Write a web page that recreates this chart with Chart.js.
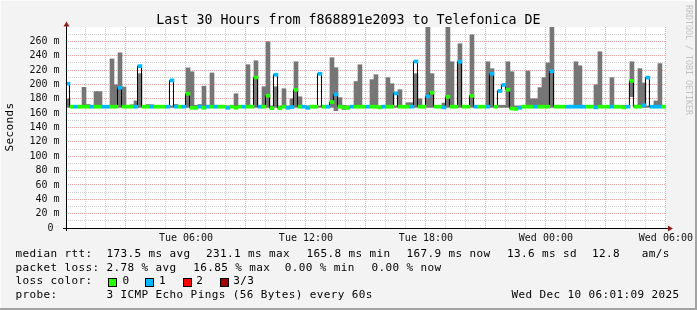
<!DOCTYPE html>
<html><head><meta charset="utf-8">
<script src="https://cdn.jsdelivr.net/npm/chart.js@4"></script>
<style>
html,body{margin:0;padding:0;background:#f3f3f3;}
#wrap{position:relative;width:697px;height:310px;overflow:hidden;background:#f3f3f3;font-family:"DejaVu Sans Mono",monospace;color:#000;}
#wrap canvas{position:absolute;left:0;top:0;}
.t{position:absolute;white-space:pre;font-size:11px;line-height:12.8px;letter-spacing:0.38px;}
.box{position:absolute;width:9px;height:9px;box-sizing:border-box;border:1px solid #000;}
#title{position:absolute;left:0;top:12px;width:697px;text-align:center;font-size:13.3px;line-height:15.5px;white-space:pre;}
#wm{position:absolute;left:688.3px;top:60px;transform:translate(-50%,-50%) rotate(90deg);font-size:8.3px;line-height:9.7px;color:#c2c2c2;white-space:pre;}
#ylab{position:absolute;left:9.5px;top:126.5px;transform:translate(-50%,-50%) rotate(-90deg);font-size:11px;line-height:12.8px;letter-spacing:0.38px;white-space:pre;}
.fr{position:absolute;pointer-events:none;}
</style></head>
<body>
<div id="wrap">
<canvas id="c" width="697" height="310"></canvas>
<div id="title">Last 30 Hours from f868891e2093 to Telefonica DE</div>
<div id="wm">RRDTOOL / TOBI OETIKER</div>
<div id="ylab">Seconds</div>
<div id="legend"></div>
<div class="fr" style="left:0;top:0;width:697px;height:1px;background:#fdfdfd"></div>
<div class="fr" style="left:0;top:0;width:1px;height:310px;background:#fdfdfd"></div>
<div class="fr" style="left:695px;top:0;width:2px;height:310px;background:#a3a3a3"></div>
<div class="fr" style="left:0;top:308px;width:697px;height:2px;background:#a3a3a3"></div>
</div>
<script>
// ---- data (12-minute buckets starting Tue 00:00) ----
const bucketHours = 0.2;
const median = [
201,169,169,169,169,169,169,169,169,169,
169,169,169,195.4,169,169,169,169,225.5,169,
169,169,169,169,169,169,205.6,169,169,169,
187,167.5,167.5,169,167.5,169,169,169,169,169,
167.5,169,167.5,169,169,169,169,209.8,169,169,
184.3,167,213.5,167,169,167.5,168.5,192.6,169,169,
167.5,169,169,214.9,169,169,175.4,186,169,168,
167.5,169,169,169,169,169,169,169,168,169,
169,169,187.5,169,169,169,169,232,169,169,
183.4,188.5,169,169,168,182.7,169,169,231.6,169,
169,184.2,169,169,169,169,214.9,169,191,199.3,
192.7,166.5,165.8,167.5,169,169,169,169,169,169,
169,218.3,169,169,169,169,169,169,169,169,
169,169,168,169,169,169,169,169,169,168,
169,205,169,169,171,209.5,169,169,169,169
];
const lossCount = [
1,0,1,0,0,0,1,0,0,1,
1,0,0,1,0,0,0,1,1,0,
0,1,0,0,0,1,1,1,0,1,
0,0,0,1,0,1,0,1,0,0,
1,0,0,0,1,0,0,0,1,0,
0,0,1,0,0,1,1,0,0,1,
1,0,0,1,0,1,0,1,0,0,
0,1,0,0,0,1,0,0,0,1,
0,0,1,0,0,0,1,1,0,0,
1,0,0,0,1,0,0,0,1,0,
0,0,1,0,0,1,1,0,1,1,
0,0,0,1,0,0,0,1,0,0,
0,1,0,0,0,1,1,1,1,1,
0,0,1,0,0,0,1,0,0,0,
1,0,0,0,1,1,1,1,1,0
];
const smokeLow = [
168,168,168,168,168,168,168,168,168,168,
168,168,168,168,168,168,168,168,168,168,
168,168,168,168,168,168,168,168,168,168,
168,168,168,168,168,168,168,168,168,168,
168,168,168,168,168,168,168,168,168,168,
168,168,168,168,168,168,168,168,168,168,
168,168,168,168,168,168,168,163.4,168,165,
168,168,168,168,168,168,168,168,168,168,
168,168,168,168,168,168,168,168,168,168,
168,168,168,168,168,168,168,168,168,168,
168,168,168,168,168,168,168,168,168,168,
168,168,168,168,168,168,168,168,168,168,
168,168,168,168,168,168,168,168,168,168,
168,168,168,168,168,168,168,168,168,167,
168,183,168,168,168,168,168,168,168,168
];
const smokeHigh = [
180,171,170,171,196,172,170,190,190,170,
170,235.5,199.5,244,196.5,170,171.7,177,215,170,
172,171.7,170,170,170,170,170,172,170,170,
223,217.7,171,172,197.5,171,216,171,171,170,
170,170,187,170,170,227.5,170,233,170,196.8,
259.5,170,196.8,170,194,170,180,231.6,182.8,170,
170,171,170,170,171,171,237.2,223.3,181.6,171,
170,170,204,227.4,170,170,206.7,213.6,170,171,
209.5,201,170,192.7,170,174.5,174.5,215,180,170,
280,215,170,170,174,280,231.6,170,256.7,170,
170,269.2,170,170,170,231.6,221.9,170,171,171,
231.6,217.7,170,170,170,218.8,180,180,195.5,209.5,
230,280,171,170,170,170,171,231.6,226,170,
171,171,199.5,245.5,170,170,209.5,170,170,171,
170,231.6,171,222,202,170,170,177,229,170
];
const lossColors = ['#26ff00','#00b8ff','#ff0000','#a00000'];
const lossLabels = ['0','1','2','3/3'];
const xTickHours = [6,12,18,24,30];
const xTickLabels = ['Tue 06:00','Tue 12:00','Tue 18:00','Wed 00:00','Wed 06:00'];
const yMax = 280;
const rttStats = ['median rtt:','173.5 ms avg','231.1 ms max','165.8 ms min','167.9 ms now','13.6 ms sd','12.8','am/s'];
const lossStats = ['packet loss:','2.78 % avg','16.85 % max','0.00 % min','0.00 % now'];
const probeInfo = ['probe:','3 ICMP Echo Pings (56 Bytes) every 60s','Wed Dec 10 06:01:09 2025'];

// ---- legend (HTML text) ----
const leg = document.getElementById('legend');
function txt(x, baseline, s){ const d=document.createElement('div'); d.className='t'; d.style.left=x+'px'; d.style.top=(baseline-10.2)+'px'; d.textContent=s; leg.appendChild(d); }
const row1X=[15.5,106.6,206.1,306.6,406.6,507,592,641.7];
rttStats.forEach((s,i)=>txt(row1X[i],258.5,s));
const row2X=[15.5,106.6,193.2,284.8,371.4];
lossStats.forEach((s,i)=>txt(row2X[i],272,s));
txt(15.5,285.5,'loss color:');
const boxX=[108,145,182.5,220], labX=[122.6,159,196.3,233.2];
lossLabels.forEach((s,i)=>{ const b=document.createElement('div'); b.className='box'; b.style.left=boxX[i]+'px'; b.style.top='277.5px'; b.style.background=lossColors[i]; leg.appendChild(b); txt(labX[i],285.5,s); });
const row4X=[15.5,106.6,511.4];
probeInfo.forEach((s,i)=>txt(row4X[i],299,s));

// ---- chart ----
const smokeData = median.map((m,k)=>({x:k*bucketHours+bucketHours/2, y:[smokeLow[k], smokeHigh[k]]}));
const markData = median.map((m,k)=>({x:k*bucketHours+bucketHours/2, y:[m-2.1, m+2.1]}));
const lineData = median.map((m,k)=>({x:k*bucketHours, y:m}));
lineData.push({x:median.length*bucketHours, y:median[median.length-1]});

const MAJ='rgba(235,110,110,0.6)', MIN='rgba(150,150,150,0.45)';
const deco = {
  id:'deco',
  beforeDraw(c){ const {ctx, chartArea:a}=c; ctx.save(); ctx.fillStyle='#ffffff'; ctx.fillRect(a.left,a.top,a.right-a.left,a.bottom-a.top); ctx.restore(); },
  beforeDatasetDraw(c,args){ if(c.data.datasets[args.index].label==='median line'){ c.ctx.save(); c.ctx.translate(-0.5,0);} },
  afterDatasetDraw(c,args){ if(c.data.datasets[args.index].label==='median line'){ c.ctx.restore(); } },
  afterDraw(c){
    const {ctx, chartArea:a}=c; ctx.save();
    ctx.fillStyle='#000';
    ctx.fillRect(a.left-3, a.bottom, a.right-a.left+5, 1);
    ctx.fillRect(a.left, a.top-1, 1, a.bottom-a.top+4);
    ctx.fillStyle='#8f1d1d';
    ctx.beginPath(); ctx.moveTo(a.left+0.5,a.top-5.5); ctx.lineTo(a.left-2.5,a.top-0.5); ctx.lineTo(a.left+3.5,a.top-0.5); ctx.closePath(); ctx.fill();
    ctx.beginPath(); ctx.moveTo(a.right+7,a.bottom+0.5); ctx.lineTo(a.right+2,a.bottom-2.5); ctx.lineTo(a.right+2,a.bottom+3.5); ctx.closePath(); ctx.fill();
    ctx.restore();
  }
};

new Chart(document.getElementById('c'), {
  type:'bar',
  data:{ datasets:[
    {label:'smoke', data:smokeData, backgroundColor:'#767676', borderWidth:0, grouped:false, barPercentage:1, categoryPercentage:1, order:3},
    {type:'line', label:'median line', data:lineData, borderColor:'#000', borderWidth:1, pointRadius:0, fill:false, stepped:true, tension:0, order:2},
    {label:'median', data:markData, backgroundColor:lossCount.map(l=>lossColors[l]), borderWidth:0, grouped:false, barPercentage:1, categoryPercentage:1, order:1}
  ]},
  options:{
    responsive:false, animation:false, devicePixelRatio:1,
    layout:{padding:{left:0,right:31,top:27,bottom:0}},
    plugins:{legend:{display:false}, tooltip:{enabled:false}},
    scales:{
      x:{type:'linear', min:0, max:30, offset:false,
        afterFit:s=>{s.height=82;},
        border:{display:false, dash:[1,1]},
        grid:{offset:false, drawTicks:false, lineWidth:1, color:ctx=>{const v=ctx.tick.value; return v===0?'rgba(0,0,0,0)':(v%3===0?MAJ:MIN);} },
        ticks:{stepSize:1, autoSkip:false, maxRotation:0, padding:4, color:'#111', font:{family:'DejaVu Sans Mono', size:10},
          callback:v=>{const i=xTickHours.indexOf(v); return i>=0?xTickLabels[i]:'';}}
      },
      y:{min:0, max:yMax,
        afterFit:s=>{s.width=66;},
        border:{display:false, dash:[1,1]},
        grid:{drawTicks:false, lineWidth:1, color:ctx=>{const v=ctx.tick.value; return (v===0||v===yMax)?'rgba(0,0,0,0)':(v%20===0?MAJ:MIN);} },
        ticks:{stepSize:10, autoSkip:false, padding:6.5, color:'#111', font:{family:'DejaVu Sans Mono', size:10},
          callback:v=>{ if(v===0) return '0 '; return (v%20===0 && v<yMax)? v+' m' : ''; }}
      }
    }
  },
  plugins:[deco]
});
</script>
</body></html>
